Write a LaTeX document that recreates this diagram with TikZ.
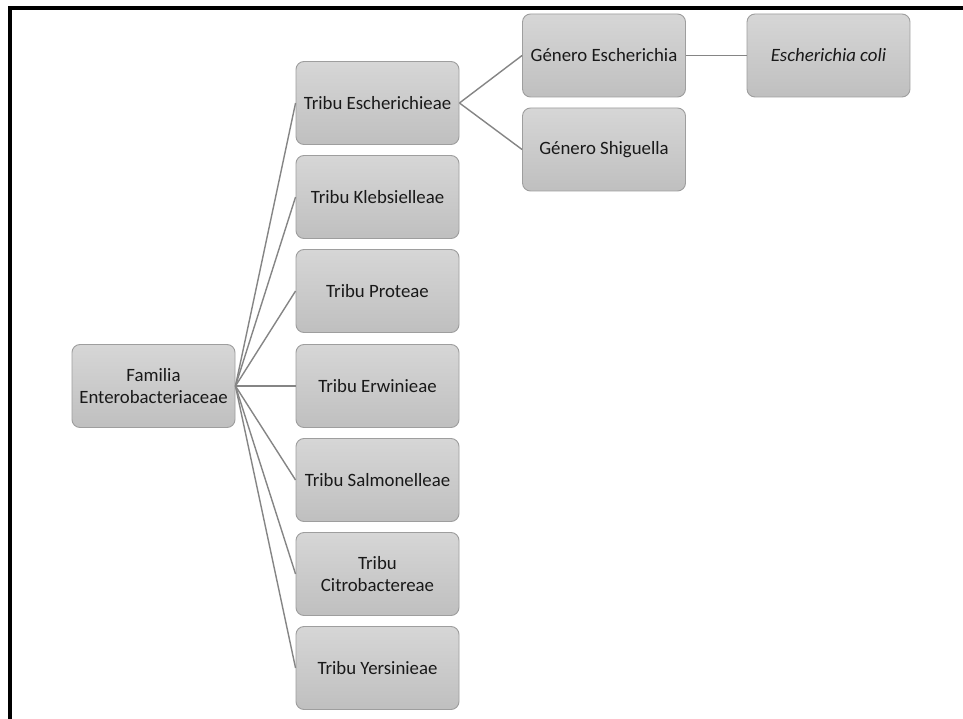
\documentclass[tikz,border=0pt]{standalone}
\usepackage{fontspec}
\setmainfont{Carlito}
\begin{document}
\begin{tikzpicture}[x=1pt,y=-1pt,
  box/.style={draw=black!38, line width=0.9pt, rounded corners=8pt,
    top color=black!16, bottom color=black!25,
    minimum width=163pt, minimum height=83pt, inner sep=2pt,
    align=center, text=black!90,
    font=\fontsize{18.8}{21.5}\selectfont},
  link/.style={draw=black!48, line width=1.4pt}]
\useasboundingbox (0,0) rectangle (963,719);
\fill[white] (0,0) rectangle (963,719);
% frame (top and left)
\draw[line width=4pt, black] (10,719) -- (10,8) -- (963,8);
% nodes
\node[box] (fam) at (153.5,386) {Familia\\Enterobacteriaceae};
\node[box] (t1) at (377.5,103) {Tribu Escherichieae};
\node[box] (t2) at (377.5,197) {Tribu Klebsielleae};
\node[box] (t3) at (377.5,291) {Tribu Proteae};
\node[box] (t4) at (377.5,386) {Tribu Erwinieae};
\node[box] (t5) at (377.5,480) {Tribu Salmonelleae};
\node[box] (t6) at (377.5,574) {Tribu\\Citrobactereae};
\node[box] (t7) at (377.5,668) {Tribu Yersinieae};
\node[box] (g1) at (604,55.5) {Género Escherichia};
\node[box] (g2) at (604,149.5) {Género Shiguella};
\node[box] (ec) at (828.5,55.5) {\itshape Escherichia coli};
% connectors
\foreach \t in {t1,t2,t3,t4,t5,t6,t7}
  \draw[link] (fam.east) -- (\t.west);
\draw[link] (t1.east) -- (g1.west);
\draw[link] (t1.east) -- (g2.west);
\draw[link] (g1.east) -- (ec.west);
\end{tikzpicture}
\end{document}
